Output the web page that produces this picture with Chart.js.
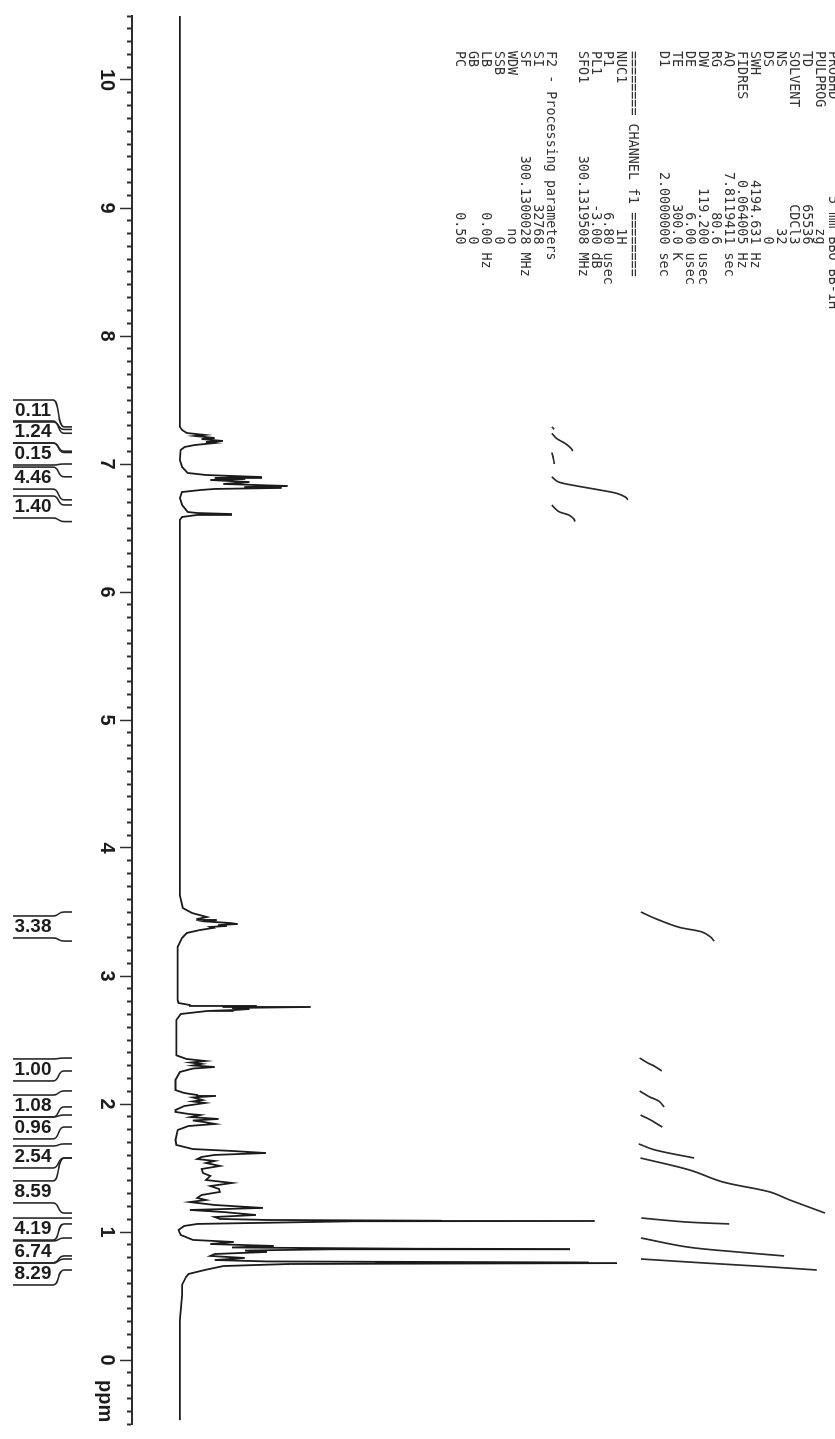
<!DOCTYPE html>
<html>
<head>
<meta charset="utf-8">
<title>1H NMR spectrum</title>
<script src="https://cdn.jsdelivr.net/npm/chart.js@4.4.1/dist/chart.umd.min.js"></script>
<style>
  html, body { margin: 0; padding: 0; background: #fff; overflow: hidden; }
  /* the plot is laid out landscape and then turned a quarter clockwise */
  #page { position: absolute; left: 0; top: 0; width: 1439px; height: 835px;
          transform-origin: 0 0; transform: translate(835px, 0) rotate(90deg); }
  #spectrum { position: absolute; left: 0; top: 0; }
  .params { position: absolute; left: 51px; margin: 0; white-space: pre;
            font: 13.4px "DejaVu Sans Mono", "Liberation Mono", monospace; color: #333; }
</style>
</head>
<body>
<div id="page">
  <canvas id="spectrum" width="1439" height="835"></canvas>
  <pre class="params" id="acq" style="top:-5.5px; line-height:13px"></pre>
  <pre class="params" id="chan" style="top:195.8px; line-height:12.5px"></pre>
  <pre class="params" id="proc" style="top:276.5px; line-height:13.1px"></pre>
</div>
<script>
// spectrum trace (ppm, relative intensity)
const spectrumPpm = [10.5, 7.34, 7.29, 7.266, 7.242, 7.227, 7.219, 7.203, 7.195, 7.18, 7.172, 7.164, 7.148, 7.133, 7.109,
  7.031, 6.977, 6.93, 6.914, 6.898, 6.891, 6.883, 6.875, 6.859, 6.844, 6.828, 6.82, 6.813, 6.805, 6.797, 6.781,
  6.734, 6.68, 6.625, 6.617, 6.609, 6.602, 6.586, 6.563,
  3.63, 3.531, 3.492, 3.461, 3.445, 3.438, 3.426, 3.414, 3.406, 3.398, 3.391, 3.383, 3.375, 3.359, 3.336, 3.297, 3.227,
  2.813, 2.789, 2.773, 2.766, 2.762, 2.758, 2.75, 2.742, 2.734, 2.727, 2.703, 2.656,
  2.38, 2.352, 2.336, 2.324, 2.313, 2.301, 2.289, 2.277, 2.25, 2.188,
  2.109, 2.086, 2.07, 2.063, 2.051, 2.031, 2.02, 2.008, 1.984, 1.953,
  1.938, 1.922, 1.914, 1.898, 1.883, 1.871, 1.859, 1.844, 1.828, 1.797, 1.719,
  1.68, 1.648, 1.633, 1.617, 1.602, 1.586, 1.57, 1.555, 1.539, 1.516, 1.492, 1.461, 1.438, 1.406, 1.383, 1.359,
  1.336, 1.313, 1.289, 1.266, 1.25, 1.234, 1.211, 1.188, 1.172, 1.156, 1.133, 1.117, 1.102, 1.094, 1.088, 1.086, 1.084,
  1.078, 1.063, 1.047, 1.016, 0.977, 0.938, 0.922, 0.906, 0.891, 0.879, 0.869, 0.867, 0.865, 0.855, 0.844, 0.828,
  0.813, 0.797, 0.781, 0.77, 0.762, 0.76, 0.757, 0.75, 0.734, 0.703, 0.672, 0.648, 0.586, 0.508, 0.313, -0.47];
const spectrumInt = [0, 0, 0, 0.5, 1.6, 5.7, 3.5, 8.0, 5.0, 9.9, 6.0, 8.0, 3.4, 1.1, 0.2,
  0, 0.5, 1.8, 6.0, 18.9, 8.0, 15.0, 7.0, 16.0, 10.0, 24.8, 15.0, 23.4, 8.0, 4.8, 0.5,
  0, 0.5, 1.8, 4.0, 12.0, 4.0, 0.5, 0,
  0, 0.7, 2.8, 6.2, 4.0, 8.5, 6.0, 11.5, 13.3, 9.0, 10.8, 7.0, 7.6, 4.6, 1.6, 0.5, -0.5,
  -0.5, -0.3, 2.3, 17.7, 10.0, 30.1, 12.0, 16.0, 12.4, 6.4, 0.2, -0.8,
  -0.8, 1.5, 5.8, 2.5, 5.0, 3.0, 8.0, 3.0, 0, -1.0,
  -1.0, 1.0, 4.0, 8.3, 3.0, 5.2, 3.0, 5.8, 1.0, -1.0,
  -1.0, 2.0, 4.7, 2.5, 8.9, 3.0, 5.6, 8.1, 2.0, -0.5, -1.0,
  -0.8, 3.0, 12.0, 19.8, 8.0, 5.0, 4.0, 8.0, 6.0, 9.2, 5.0, 5.3, 7.0, 6.0, 12.0, 7.0,
  9.0, 9.2, 5.0, 4.0, 6.0, 2.3, 8.0, 19.1, 2.3, 10.0, 17.5, 8.0, 9.2, 20.0, 60.0, 95.4, 40.0,
  30.0, 4.0, 1.0, -0.3, 0.2, 3.0, 12.4, 7.0, 21.6, 12.0, 55.0, 89.7, 35.0, 15.0, 20.0, 8.0,
  7.0, 14.9, 8.0, 20.0, 94.0, 45.0, 100.5, 25.0, 10.0, 5.7, 2.0, 1.4, 0.5, 0.5, 0, 0];

// integrals: printed value, where the label sits, and the traced integral curve
const integralValues = [0.11, 1.24, 0.15, 4.46, 1.40, 3.38, 1.00, 1.08, 0.96, 2.54, 8.59, 4.19, 6.74, 8.29];
const integralLabelPpm = [7.414, 7.25, 7.078, 6.89, 6.664, 3.383, 2.266, 1.984, 1.813, 1.586, 1.313, 1.023, 0.844, 0.672];
const integralCurvePpm = [
  [7.29, 7.28, 7.27],
  [7.24, 7.20, 7.16, 7.12, 7.10],
  [7.09, 7.05, 7.00],
  [6.90, 6.86, 6.83, 6.80, 6.77, 6.74, 6.72],
  [6.68, 6.63, 6.60, 6.57, 6.55],
  [3.50, 3.453, 3.383, 3.344, 3.305, 3.273],
  [2.359, 2.32, 2.297, 2.258],
  [2.102, 2.055, 2.023, 1.977],
  [1.914, 1.875, 1.82],
  [1.688, 1.641, 1.578],
  [1.578, 1.484, 1.391, 1.313, 1.25, 1.148],
  [1.109, 1.078, 1.063],
  [0.953, 0.883, 0.844, 0.813],
  [0.789, 0.758, 0.727, 0.703]
];
const integralCurveInt = [
  [85.5, 85.8, 86.0],
  [85.5, 86.6, 88.6, 90.0, 90.3],
  [85.5, 85.8, 86.1],
  [85.5, 87.0, 91.0, 96.0, 100.5, 102.5, 103.0],
  [85.5, 87.0, 89.5, 90.6, 90.8],
  [106, 109, 114.5, 120, 122, 122.8],
  [105.7, 107.6, 109, 110.8],
  [105.7, 108, 110.1, 111.3],
  [105.9, 108.2, 110.9],
  [105.5, 109.2, 118.2],
  [105.9, 117.2, 124.8, 135.6, 140.2, 148.3],
  [106.1, 116.4, 126.3],
  [106, 116.6, 128.1, 138.9],
  [106, 120.5, 135.9, 146.4]
];

// acquisition / processing parameter listing
const acqNames = ["PROBHD", "PULPROG", "TD", "SOLVENT", "NS", "DS", "SWH", "FIDRES", "AQ", "RG", "DW", "DE", "TE", "D1"];
const acqValues = ["5 mm BBO BB-1H", "zg", "65536", "CDCl3", "32", "0", "4194.631", "0.064005", "7.8119411", "80.6", "119.200", "6.00", "300.0", "2.0000000"];
const acqUnits = ["", "", "", "", "", "", "Hz", "Hz", "sec", "", "usec", "usec", "K", "sec"];
const chanNames = ["NUC1", "P1", "PL1", "SFO1"];
const chanValues = ["1H", "6.80", "-3.00", "300.1319508"];
const chanUnits = ["", "usec", "dB", "MHz"];
const procNames = ["SI", "SF", "WDW", "SSB", "LB", "GB", "PC"];
const procValues = ["32768", "300.1300028", "no", "0", "0.00", "0", "0.50"];
const procUnits = ["", "MHz", "", "", "Hz", "", ""];

function row(name, value, unit) {
  let pad = Math.max(1, 24 - name.length - value.length);
  if (name === "PROBHD") pad = 12;
  return name + " ".repeat(pad) + value + (unit ? " " + unit : "");
}
document.getElementById("acq").textContent =
  acqNames.map(function (n, i) { return row(n, acqValues[i], acqUnits[i]); }).join("\n");
document.getElementById("chan").textContent = "======== CHANNEL f1 ========\n" +
  chanNames.map(function (n, i) { return row(n, chanValues[i], chanUnits[i]); }).join("\n");
document.getElementById("proc").textContent = "F2 - Processing parameters\n" +
  procNames.map(function (n, i) { return row(n, procValues[i], procUnits[i]); }).join("\n");

function isMajor(v) {
  return Math.abs(v - Math.round(v)) < 1e-6;
}

const labelFont = '"Liberation Sans", Arial, Helvetica, sans-serif';

// integral labels with their brackets, plus the ppm unit
const integralLabels = {
  id: "integralLabels",
  afterDraw(chart) {
    const ctx = chart.ctx;
    const xs = chart.scales.x;
    const axisV = chart.chartArea.bottom;
    ctx.save();
    ctx.strokeStyle = "#262626";
    ctx.fillStyle = "#1c1c1c";
    ctx.lineWidth = 1.6;
    ctx.font = "bold 19px " + labelFont;
    integralValues.forEach(function (val, i) {
      const c = xs.getPixelForValue(integralLabelPpm[i]);
      const ppms = integralCurvePpm[i];
      const uStart = xs.getPixelForValue(ppms[0]);
      const uEnd = xs.getPixelForValue(ppms[ppms.length - 1]);
      [[c - 11, uStart], [c + 11, uEnd]].forEach(function (p) {
        ctx.beginPath();
        ctx.moveTo(p[0], axisV + 119);
        ctx.lineTo(p[0], axisV + 79);
        ctx.bezierCurveTo(p[0], axisV + 72, p[1], axisV + 75, p[1], axisV + 68);
        ctx.lineTo(p[1], axisV + 60);
        ctx.stroke();
      });
      ctx.save();
      ctx.translate(c, axisV + 99);
      ctx.rotate(-Math.PI / 2);
      ctx.textAlign = "center";
      ctx.textBaseline = "middle";
      ctx.fillText(val.toFixed(2), 0, 0);
      ctx.restore();
    });
    ctx.font = "bold 20px " + labelFont;
    ctx.textAlign = "left";
    ctx.textBaseline = "middle";
    ctx.fillText("ppm", xs.getPixelForValue(0) + 20, axisV + 27);
    ctx.restore();
  }
};

const datasets = [{
  data: spectrumPpm.map(function (p, i) { return { x: p, y: spectrumInt[i] }; }),
  borderColor: "#1a1a1a",
  borderWidth: 1.8,
  pointRadius: 0,
  tension: 0
}];
integralCurvePpm.forEach(function (ppms, i) {
  datasets.push({
    data: ppms.map(function (p, j) { return { x: p, y: integralCurveInt[i][j] }; }),
    borderColor: "#2a2a2a",
    borderWidth: 1.7,
    pointRadius: 0,
    tension: 0.35
  });
});

new Chart(document.getElementById("spectrum"), {
  type: "line",
  data: { datasets: datasets },
  plugins: [integralLabels],
  options: {
    responsive: false,
    animation: false,
    events: [],
    layout: { padding: { left: 16, right: 15, top: 0, bottom: 0 } },
    plugins: { legend: { display: false }, tooltip: { enabled: false } },
    scales: {
      x: {
        type: "linear",
        reverse: true,
        min: -0.5,
        max: 10.5,
        border: { display: true, color: "#2e2e2e", width: 2 },
        grid: {
          drawOnChartArea: false,
          drawTicks: true,
          tickLength: 12,
          tickColor: "#2e2e2e",
          tickWidth: function (ctx) { return isMajor(ctx.tick.value) ? 1.5 : 2; },
          tickBorderDash: function (ctx) { return isMajor(ctx.tick.value) ? [] : [4, 40]; }
        },
        ticks: {
          stepSize: 0.1,
          autoSkip: false,
          includeBounds: false,
          maxRotation: 0,
          minRotation: 0,
          padding: 1,
          color: "#1c1c1c",
          font: { family: labelFont, size: 20, weight: "bold" },
          callback: function (v) { return isMajor(v) ? String(Math.round(v)) : ""; }
        },
        afterFit: function (scale) { scale.height = 132; }
      },
      y: {
        display: false,
        min: -11,
        max: 150.6
      }
    }
  }
});
</script>
</body>
</html>
